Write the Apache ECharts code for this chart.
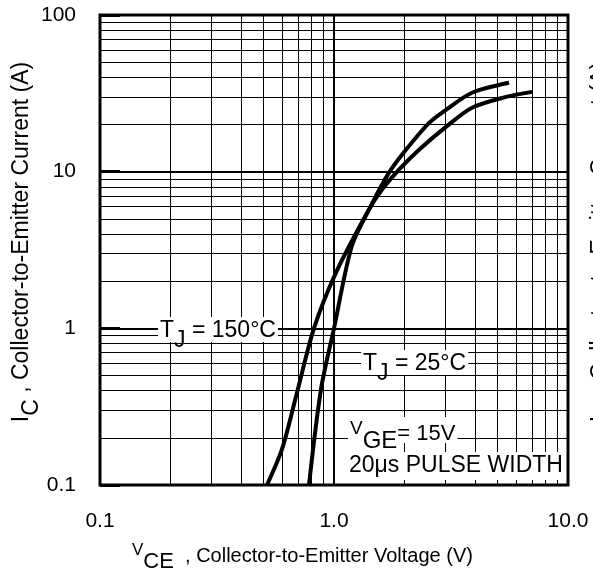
<!DOCTYPE html>
<html>
<head>
<meta charset="utf-8">
<script src="https://cdn.jsdelivr.net/npm/echarts@6/dist/echarts.min.js"></script>
<style>
  html, body { margin: 0; padding: 0; background: #fff; }
  #chart { width: 593px; height: 577px; }
</style>
</head>
<body>
<div id="chart"></div>
<script>
// VCE (V) / IC (A)
const vce150 = [0.517, 0.6, 0.695, 0.821, 1.02, 1.411, 1.604, 1.896, 2.31, 3.01, 3.89, 5.43, 7.02];
const ic150 = [0.1, 0.17, 0.39, 1.0, 2.27, 5.73, 7.68, 10.3, 13.8, 19.3, 25.6, 30.0, 32.3];
const vce25 = [0.782, 0.88, 1.0, 1.19, 1.411, 1.718, 2.03, 2.55, 3.01, 3.89, 5.6];
const ic25 = [0.1, 0.409, 1.0, 3.33, 5.73, 9.86, 13.8, 20.5, 24.8, 31.9, 36.9];

// log paper: decades + the 2..9 lines inside each decade
const xDecades = [0.1, 1];
const yDecades = [0.1, 1, 10];
const steps = [2, 3, 4, 5, 6, 7, 8, 9];

const FONT = "'Liberation Sans', Arial, sans-serif";

let minorLines = [];
xDecades.forEach((d) => steps.forEach((s) => minorLines.push({ xAxis: +(d * s).toFixed(3) })));
yDecades.forEach((d) => steps.forEach((s) => minorLines.push({ yAxis: +(d * s).toFixed(3) })));

function pairs(xs, ys) {
  return xs.map((x, i) => [x, ys[i]]);
}

// rich text pieces, "s"/"g" are the subscripts
function richSet(size) {
  let base = { fontFamily: FONT, color: "#000", verticalAlign: "top" };
  return {
    n: Object.assign({ fontSize: size, lineHeight: size }, base),
    s: Object.assign({ fontSize: size, lineHeight: size, padding: [Math.round(size * 0.45), 0, 0, 0] }, base),
    v: Object.assign({ fontSize: size - 4, lineHeight: size - 4 }, base),
    g: Object.assign({ fontSize: size + 1, lineHeight: size + 1, padding: [Math.round(size * 0.45), 0, 0, 0] }, base),
    m: Object.assign({ fontSize: size - 1, lineHeight: size - 1, padding: [4, 0, 0, 0] }, base),
  };
}

let myChart = echarts.init(document.getElementById("chart"));
let yTitle = "{n|I}{s|C}{n| , Collector-to-Emitter Current (A)}";
let xRich = richSet(21);
let yRich = richSet(23);
let noteRich = richSet(23);

let option = {
  animation: false,
  backgroundColor: "#fff",
  grid: {
    left: 100,
    top: 15,
    width: 468,
    height: 470,
    show: true,
    borderColor: "#000",
    borderWidth: 3,
  },
  xAxis: {
    type: "log",
    logBase: 10,
    min: 0.1,
    max: 10,
    axisLine: { show: false },
    axisTick: { show: false },
    axisLabel: {
      margin: 26,
      fontSize: 21,
      fontFamily: FONT,
      color: "#000",
      formatter: (v) => (v < 0.5 ? "0.1" : v.toFixed(1)),
    },
    splitLine: { show: true, lineStyle: { color: "#000", width: 2 } },
  },
  yAxis: {
    type: "log",
    logBase: 10,
    min: 0.1,
    max: 100,
    axisLine: { show: false },
    axisTick: { show: true, inside: true, length: 20, lineStyle: { color: "#000", width: 3 } },
    axisLabel: {
      margin: 24,
      fontSize: 21,
      fontFamily: FONT,
      color: "#000",
      formatter: (v) => (v < 0.5 ? "0.1" : String(Math.round(v))),
    },
    splitLine: { show: true, lineStyle: { color: "#000", width: 2 } },
  },
  graphic: {
    elements: [
      {
        type: "text",
        x: 22,
        y: 242,
        rotation: Math.PI / 2,
        style: { text: yTitle, rich: yRich, align: "center", verticalAlign: "middle" },
      },
      {
        // cut-off label of the neighbouring figure
        type: "text",
        x: 601,
        y: 242,
        rotation: Math.PI / 2,
        style: { text: yTitle, rich: yRich, align: "center", verticalAlign: "middle" },
      },
      {
        type: "text",
        x: 132,
        y: 542,
        style: { text: "{v|V}{g|CE}{m|  , Collector-to-Emitter Voltage (V)}", rich: xRich },
      },
      {
        type: "text",
        x: 158,
        y: 317,
        z: 10,
        style: {
          text: "{n|T}{s|J}{n| = 150°C}",
          rich: noteRich,
          backgroundColor: "#fff",
          padding: [2, 2, 0, 2],
        },
      },
      {
        type: "text",
        x: 361,
        y: 350,
        z: 10,
        style: {
          text: "{n|T}{s|J}{n| = 25°C}",
          rich: noteRich,
          backgroundColor: "#fff",
          padding: [2, 2, 0, 2],
        },
      },
      {
        type: "text",
        x: 348,
        y: 417,
        z: 10,
        style: {
          text: "{v|V}{g|GE}{m|= 15V}",
          rich: noteRich,
          backgroundColor: "#fff",
          padding: [2, 2, 0, 2],
        },
      },
      {
        type: "text",
        x: 347,
        y: 452,
        z: 10,
        style: {
          text: "{n|20μs PULSE WIDTH}",
          rich: noteRich,
          backgroundColor: "#fff",
          padding: [2, 2, 3, 2],
        },
      },
    ],
  },
  series: [
    {
      name: "grid",
      type: "line",
      data: [],
      z: 1,
      silent: true,
      markLine: {
        silent: true,
        symbol: ["none", "none"],
        label: { show: false },
        lineStyle: { color: "#000", width: 1, type: "solid" },
        data: minorLines,
      },
    },
    {
      name: "TJ = 150°C",
      type: "line",
      data: pairs(vce150, ic150),
      smooth: 0.3,
      showSymbol: false,
      z: 3,
      lineStyle: { color: "#000", width: 4 },
    },
    {
      name: "TJ = 25°C",
      type: "line",
      data: pairs(vce25, ic25),
      smooth: 0.3,
      showSymbol: false,
      z: 3,
      lineStyle: { color: "#000", width: 4 },
    },
  ],
};
myChart.setOption(option);
</script>
</body>
</html>
